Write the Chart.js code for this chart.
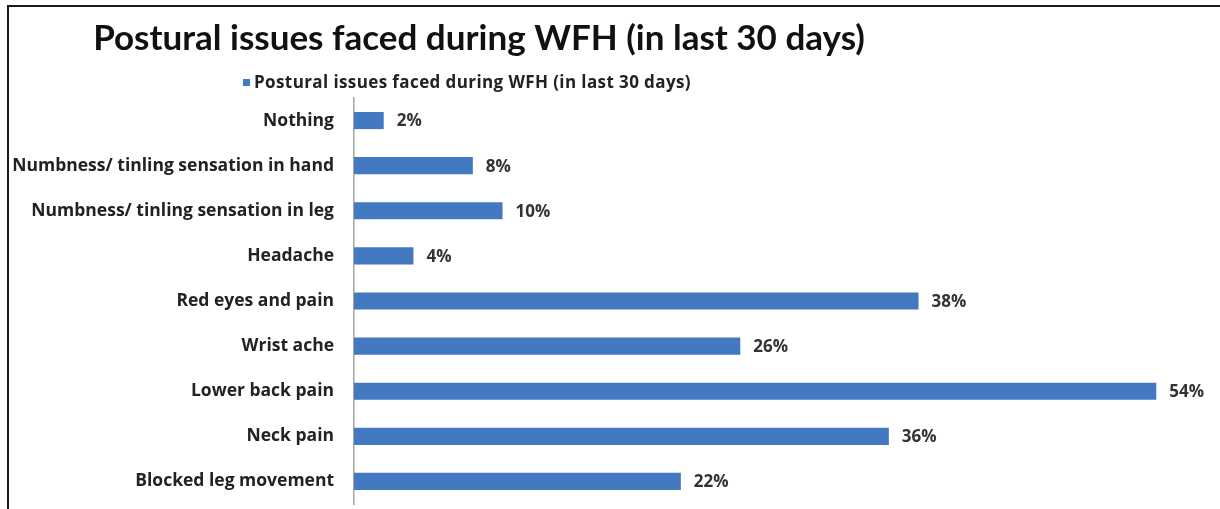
<!DOCTYPE html>
<html>
<head>
<meta charset="utf-8">
<script src="https://cdn.jsdelivr.net/npm/chart.js@4/dist/chart.umd.min.js"></script>
<style>
  html, body { margin: 0; padding: 0; background: #fff; }
  #wrap { position: absolute; left: 0; top: 0; width: 1220px; height: 509px; }
</style>
</head>
<body>
<div id="wrap"><canvas id="c" width="1220" height="509"></canvas></div>
<script>
// Survey responses: share of respondents reporting each issue
const chartTitle = 'Postural issues faced during WFH (in last 30 days)';
const seriesName = 'Postural issues faced during WFH (in last 30 days)';
const categories = [
  'Nothing',
  'Numbness/ tinling sensation in hand',
  'Numbness/ tinling sensation in leg',
  'Headache',
  'Red eyes and pain',
  'Wrist ache',
  'Lower back pain',
  'Neck pain',
  'Blocked leg movement'
];
const percentages = [2, 8, 10, 4, 38, 26, 54, 36, 22];

const TITLE_FONT = 'Lato, "Open Sans", sans-serif';
const FONT = '"Open Sans", Lato, sans-serif';
const BAR_COLOR = '#4279c0';

// Frame, title and legend entry drawn around the plot
const headerPlugin = {
  id: 'header',
  beforeDraw(chart) {
    const ctx = chart.ctx;
    ctx.save();
    ctx.fillStyle = '#fff';
    ctx.fillRect(0, 0, chart.width, chart.height);
    ctx.strokeStyle = '#1a1a1a';
    ctx.lineWidth = 2;
    ctx.beginPath();
    ctx.moveTo(8, chart.height);
    ctx.lineTo(8, 6);
    ctx.lineTo(chart.width, 6);
    ctx.stroke();
    ctx.restore();
  },
  afterDraw(chart) {
    const ctx = chart.ctx;
    ctx.save();
    ctx.fillStyle = '#111';
    ctx.textBaseline = 'alphabetic';
    ctx.textAlign = 'center';
    ctx.font = 'bold 35px ' + TITLE_FONT;
    ctx.fillText(chartTitle, 479, 50, 773);

    ctx.fillStyle = BAR_COLOR;
    ctx.fillRect(243, 79, 7, 7);
    ctx.fillStyle = '#222';
    ctx.textAlign = 'left';
    ctx.font = 'bold 17px ' + FONT;
    ctx.letterSpacing = '0.4px';
    ctx.fillText(seriesName, 254, 88, 440);
    ctx.restore();
  }
};

// Percentage labels just past the end of each bar
const valueLabels = {
  id: 'valueLabels',
  afterDatasetsDraw(chart) {
    const ctx = chart.ctx;
    const meta = chart.getDatasetMeta(0);
    ctx.save();
    ctx.fillStyle = '#333';
    ctx.font = 'bold 17px ' + FONT;
    ctx.textAlign = 'left';
    ctx.textBaseline = 'middle';
    meta.data.forEach((bar, i) => {
      ctx.fillText(percentages[i] + '%', bar.x + 13, bar.y + 1);
    });
    ctx.restore();
  }
};

new Chart(document.getElementById('c'), {
  type: 'bar',
  data: {
    labels: categories,
    datasets: [{
      label: seriesName,
      data: percentages,
      backgroundColor: BAR_COLOR,
      borderWidth: 0,
      categoryPercentage: 1,
      barPercentage: 0.38
    }]
  },
  options: {
    indexAxis: 'y',
    responsive: false,
    animation: false,
    layout: { autoPadding: false, padding: { top: 98, bottom: 5, left: 0, right: 34 } },
    plugins: {
      legend: { display: false },
      title: { display: false },
      tooltip: { enabled: false }
    },
    scales: {
      x: {
        display: false,
        min: 0,
        max: 56
      },
      y: {
        afterFit(scale) {
          // fixed label column; labels sit inside their bands so no edge overflow is reserved
          scale.width = 354;
          scale.paddingTop = 0;
          scale.paddingBottom = 0;
        },
        grid: { display: true, color: 'rgba(0,0,0,0)', drawTicks: false },
        border: { display: true, color: '#a6a6a6', width: 1.5 },
        ticks: {
          padding: 20,
          color: '#222',
          font: { family: FONT, size: 17.5, weight: 'bold' }
        }
      }
    }
  },
  plugins: [headerPlugin, valueLabels]
});
</script>
</body>
</html>
